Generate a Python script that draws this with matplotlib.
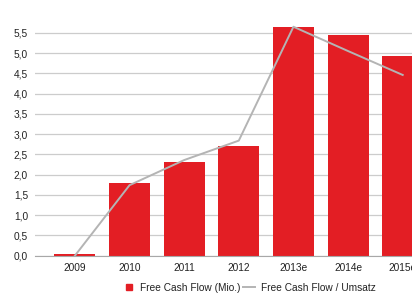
import numpy as np
import matplotlib.pyplot as plt
from matplotlib.lines import Line2D

plt.rcParams['font.family'] = ['Liberation Sans', 'DejaVu Sans']

# Daten
jahre = ['2009', '2010', '2011', '2012', '2013e', '2014e', '2015e']
fcf_mio = [0.05, 1.79, 2.31, 2.71, 5.65, 5.44, 4.94]
fcf_umsatz = [0.0, 1.74, 2.36, 2.84, 5.65, 5.05, 4.46]
y_ticks = [0.0, 0.5, 1.0, 1.5, 2.0, 2.5, 3.0, 3.5, 4.0, 4.5, 5.0, 5.5]

rot = '#e31e24'
grau = '#b4b4b4'

fig = plt.figure(figsize=(4.12, 2.93), dpi=100)
ax = fig.add_axes([35 / 412, 37.3 / 293, 1 - 35 / 412, 1 - 37.3 / 293])

x = np.arange(len(jahre))
ax.bar(x, fcf_mio, width=0.75, color=rot, zorder=2)
ax.plot(x, fcf_umsatz, color=grau, lw=1.4, zorder=3)

ax.set_xlim(-0.73, 6.17)
ax.set_ylim(0, 6.31)
ax.set_yticks(y_ticks)
ax.set_yticklabels([('%.1f' % v).replace('.', ',') for v in y_ticks])
ax.set_xticks(x)
ax.set_xticklabels(jahre)

ax.grid(axis='y', color='#cccccc', lw=0.9, zorder=0)
for s in ['top', 'right', 'left']:
    ax.spines[s].set_visible(False)
ax.spines['bottom'].set_color('#a8a8a8')
ax.tick_params(length=0, labelsize=7.3, colors='#222222')
ax.tick_params(axis='y', pad=5)
ax.tick_params(axis='x', pad=5)

# Legende: kleines Quadrat fuer Balken, Linie fuer Quote
h_bar = Line2D([], [], marker='s', color=rot, ls='none', markersize=4.5)
h_line = Line2D([], [], color=grau, lw=1.4)
fig.legend([h_bar, h_line], ['Free Cash Flow (Mio.)', 'Free Cash Flow / Umsatz'],
           loc='center', bbox_to_anchor=(249 / 412, 1 - 288 / 293), ncol=2,
           frameon=False, fontsize=7.3, handlelength=1.2,
           columnspacing=0.3, handletextpad=0.5, labelcolor='#222222')

fig.savefig('out.png', dpi=100)
